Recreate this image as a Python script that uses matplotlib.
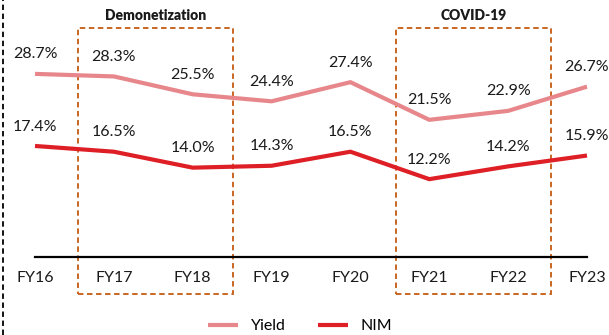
import matplotlib.pyplot as plt
from matplotlib.patches import Rectangle
from matplotlib.lines import Line2D

plt.rcParams['font.family'] = ['Lato', 'DejaVu Sans']

years = ['FY16', 'FY17', 'FY18', 'FY19', 'FY20', 'FY21', 'FY22', 'FY23']
yield_pct = [28.7, 28.3, 25.5, 24.4, 27.4, 21.5, 22.9, 26.7]
nim_pct = [17.4, 16.5, 14.0, 14.3, 16.5, 12.2, 14.2, 15.9]

YIELD_C = '#E8878B'
NIM_C = '#DE1F26'
BOX_C = '#C55A11'

fig = plt.figure(figsize=(6.09, 3.35), dpi=100)
ax = fig.add_axes([0, 0, 1, 1])
ax.set_xlim(-0.444, 7.279)
ax.set_ylim(-12.23, 40.28)
ax.axis('off')

x = range(len(years))
ax.plot(x, yield_pct, color=YIELD_C, lw=3, solid_capstyle='butt', label='Yield', zorder=3)
ax.plot(x, nim_pct, color=NIM_C, lw=3, solid_capstyle='butt', label='NIM', zorder=3)

for i in x:
    for v in (yield_pct[i], nim_pct[i]):
        ax.annotate(f'{v:.1f}%', (i, v), xytext=(0, 14), textcoords='offset points',
                    ha='center', va='center', fontsize=11.5, color='#1a1a1a')
    ax.text(i, -3.3, years[i], ha='center', va='center', fontsize=11.5, color='#1a1a1a')

# category baseline
ax.plot([0, 7], [0, 0], color='black', lw=1.6, zorder=2)

# highlight periods
for x0, x1, title in [(0.55, 2.51, 'Demonetization'), (4.58, 6.54, 'COVID-19')]:
    ax.add_patch(Rectangle((x0, -5.8), x1 - x0, 41.7, fill=False, ec=BOX_C,
                           lw=1.3, ls=(0, (3, 2)), zorder=1))
    ax.text((x0 + x1) / 2, 37.9, title, ha='center', va='center',
            fontsize=10, fontweight='heavy', color='#1a1a1a')

# dashed frame edge on the left
fig.add_artist(Line2D([0.005, 0.005], [0, 1], transform=fig.transFigure,
                      color='black', lw=1.3, ls=(0, (3, 2))))

fig.legend(loc='center', bbox_to_anchor=(300 / 609, 1 - 326 / 335), ncol=2,
           frameon=False, fontsize=11.5, handlelength=1.9, columnspacing=2.0,
           handletextpad=0.8)

fig.savefig('out.png', dpi=100)
